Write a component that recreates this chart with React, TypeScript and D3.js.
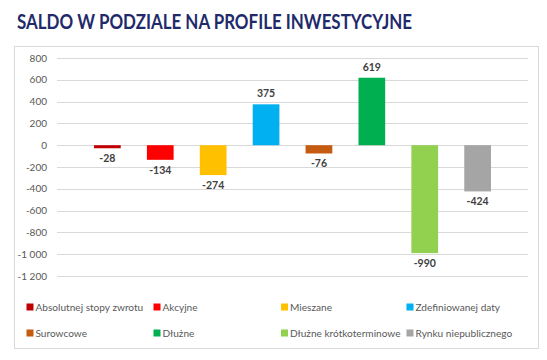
import React from "react";
import * as d3 from "d3";

const seriesNames = [
  "Absolutnej stopy zwrotu",
  "Akcyjne",
  "Mieszane",
  "Zdefiniowanej daty",
  "Surowcowe",
  "Dłużne",
  "Dłużne krótkoterminowe",
  "Rynku niepublicznego",
];
const values = [-28, -134, -274, 375, -76, 619, -990, -424];
const colors = ["#C00000", "#FF0000", "#FFC000", "#00B0F0", "#C55A11", "#00B050", "#92D050", "#A5A5A5"];
const yTicks = [800, 600, 400, 200, 0, -200, -400, -600, -800, -1000, -1200];

const W = 547;
const H = 360;
const FONT = "Lato, 'Open Sans', sans-serif";

const fmt = (v: number) => {
  const s = Math.abs(v).toString().replace(/\B(?=(\d{3})+(?!\d))/g, " ");
  return (v < 0 ? "-" : "") + s;
};

export default function App() {
  const x = d3.scaleBand<string>().domain(seriesNames).range([57, 528]).paddingInner(0.495).paddingOuter(0.7);
  const y = d3.scaleLinear().domain([-1200, 800]).range([276, 58]);
  const bw = x.bandwidth();

  const legendCols = [26.5, 153.5, 281, 406.5];
  const legendRows = [307, 333];

  return (
    <svg width={W} height={H} style={{ position: "absolute", left: 0, top: 0, display: "block" }}>
      <rect x={0} y={0} width={W} height={H} fill="#ffffff" />
      <text x={17} y={28.5} fontFamily={FONT} fontWeight={700} fontSize={20.5} fill="#1F2A6B"
        textLength={395} lengthAdjust="spacingAndGlyphs">
        SALDO W PODZIALE NA PROFILE INWESTYCYJNE
      </text>
      <rect x={14.5} y={46.5} width={524} height={302} fill="#ffffff" stroke="#D9D9D9" strokeWidth={1} />
      {yTicks.map((t) => (
        <g key={t}>
          <line x1={57} x2={528} y1={Math.round(y(t)) + 0.5} y2={Math.round(y(t)) + 0.5} stroke="#D9D9D9" strokeWidth={1} />
          <text x={47} y={y(t)} dy="0.35em" textAnchor="end" fontFamily={FONT} fontSize={10} fill="#595959">
            {fmt(t)}
          </text>
        </g>
      ))}
      {seriesNames.map((s, i) => {
        const v = values[i];
        const x0 = x(s) as number;
        const yTop = y(Math.max(0, v));
        const yBot = y(Math.min(0, v));
        const ly = v >= 0 ? yTop - 7 : yBot + 14;
        return (
          <g key={s}>
            <rect x={x0} y={yTop} width={bw} height={yBot - yTop} fill={colors[i]} />
            <text x={x0 + bw / 2} y={ly} textAnchor="middle" fontFamily={FONT} fontWeight={700} fontSize={10.5} fill="#404040">
              {fmt(v)}
            </text>
          </g>
        );
      })}
      {seriesNames.map((s, i) => {
        const cx = legendCols[i % 4];
        const cy = legendRows[Math.floor(i / 4)];
        return (
          <g key={"lg" + s}>
            <rect x={cx} y={cy - 3.5} width={7} height={7} fill={colors[i]} />
            <text x={cx + 9} y={cy} dy="0.35em" fontFamily={FONT} fontSize={10.1} fill="#595959">
              {s}
            </text>
          </g>
        );
      })}
    </svg>
  );
}
